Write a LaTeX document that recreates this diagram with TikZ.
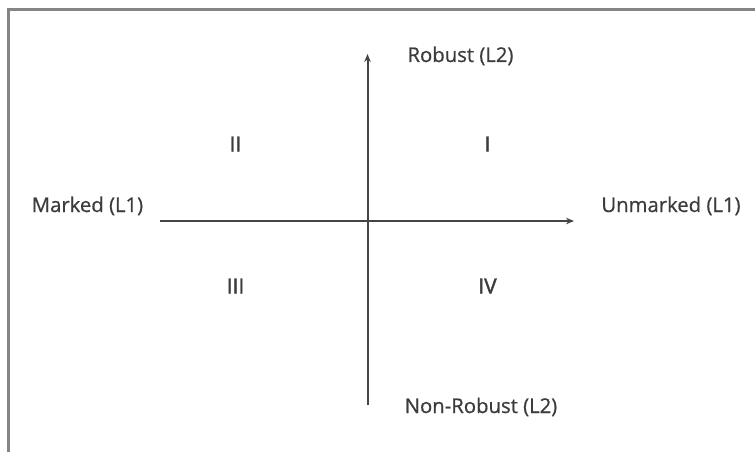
\documentclass[tikz,border=0pt]{standalone}
\usepackage{fontspec}
\setmainfont{Open Sans}
\newfontfamily\lblfont{Open Sans}[FakeBold=0.7]
\newfontfamily\numfont{Open Sans}[FakeBold=1.8]
\usetikzlibrary{arrows.meta}
\definecolor{axisgray}{HTML}{454545}
\definecolor{textgray}{HTML}{3C3C3C}
\definecolor{framegray}{HTML}{858585}
\begin{document}
\begin{tikzpicture}[x=1pt,y=-1pt,
  axis/.style={draw=axisgray,line width=2pt,-{Stealth[length=8pt,width=6.5pt]}},
  lbl/.style={text=textgray,font=\lblfont\fontsize{20.3}{24}\selectfont,anchor=base,inner sep=0pt},
  quad/.style={text=textgray,font=\numfont\fontsize{21}{24}\selectfont,anchor=base,inner sep=0pt}]
\useasboundingbox (0,0) rectangle (755,452);
\coordinate (fbl) at (8.5,452);
\coordinate (ftl) at (8.5,9.5);
\coordinate (ftr) at (755,9.5);
\draw[framegray,line width=2.2pt] (fbl) -- (ftl) -- (ftr);
\coordinate (hl) at (160,221);
\coordinate (hr) at (574,221);
\coordinate (vb) at (367.5,405);
\coordinate (vt) at (367.5,54);
\draw[axis] (hl) -- (hr);
\draw[axis] (vb) -- (vt);
\node[lbl] (robust) at (460.5,62) {Robust (L2)};
\node[lbl] (nonrobust) at (481,413) {Non-Robust (L2)};
\node[lbl] (marked) at (87.5,212) {Marked (L1)};
\node[lbl] (unmarked) at (671,212) {Unmarked (L1)};
\node[quad] (q2) at (235.5,151.5) {II};
\node[quad] (q1) at (487.5,151.5) {I};
\node[quad] (q3) at (235.5,293.5) {III};
\node[quad] (q4) at (487.5,293.5) {IV};
\end{tikzpicture}
\end{document}
